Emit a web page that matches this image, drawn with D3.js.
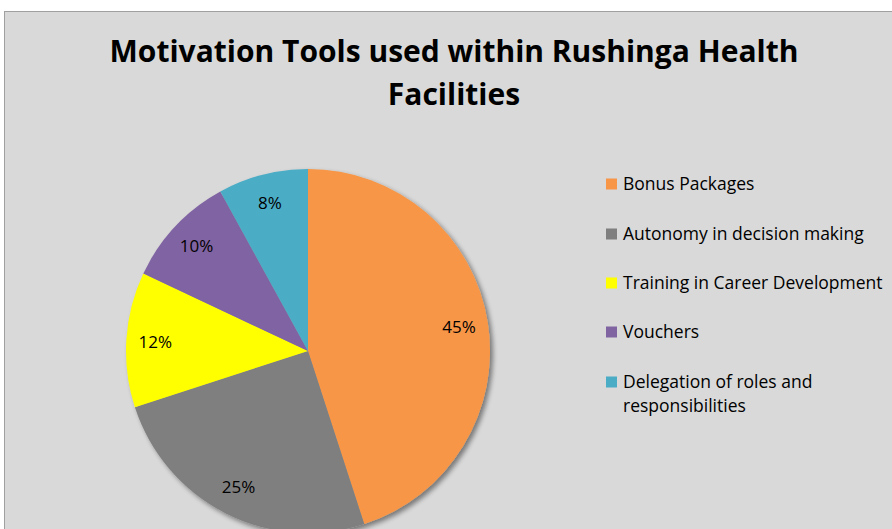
<!DOCTYPE html>
<html>
<head>
<meta charset="utf-8">
<script src="https://cdn.jsdelivr.net/npm/d3@7"></script>
<style>
  html, body { margin: 0; padding: 0; background: #fff; overflow: hidden; }
  svg { display: block; }
  text { font-family: "Open Sans", Lato, sans-serif; }
</style>
</head>
<body>
<div id="chart"></div>
<script>
const categories = ['Bonus Packages', 'Autonomy in decision making', 'Training in Career Development', 'Vouchers', 'Delegation of roles and responsibilities'];
const values = [45, 25, 12, 10, 8];
const colors = ['#f79646', '#7f7f7f', '#ffff00', '#8064a2', '#4bacc6'];
const titleLines = ['Motivation Tools used within Rushinga Health', 'Facilities'];
const legendLines = [['Bonus Packages'], ['Autonomy in decision making'], ['Training in Career Development'], ['Vouchers'], ['Delegation of roles and', 'responsibilities']];

const _w = 892, _h = 529;
const svg = d3.select('#chart').append('svg')
  .attr('width', _w)
  .attr('height', _h);

const defs = svg.append('defs');
const shadow = defs.append('filter').attr('id', 'shadow')
  .attr('x', '-10%').attr('y', '-10%').attr('width', '125%').attr('height', '125%');
shadow.append('feGaussianBlur').attr('in', 'SourceAlpha').attr('stdDeviation', 2.5);
shadow.append('feOffset').attr('dx', 3).attr('dy', 3).attr('result', 'blur');
shadow.append('feComponentTransfer').append('feFuncA').attr('type', 'linear').attr('slope', 0.45);
const merge = shadow.append('feMerge');
merge.append('feMergeNode');
merge.append('feMergeNode').attr('in', 'SourceGraphic');

// chart area
svg.append('rect')
  .attr('x', 4.5).attr('y', 11.5)
  .attr('width', 900).attr('height', 540)
  .attr('fill', '#d9d9d9')
  .attr('stroke', '#a0a0a0')
  .attr('stroke-width', 1);

svg.append('text')
  .attr('text-anchor', 'middle')
  .style('font-size', '30px')
  .style('font-weight', 'bold')
  .attr('fill', '#000')
  .selectAll('tspan')
  .data(titleLines)
  .enter().append('tspan')
  .attr('x', 454)
  .attr('y', (d, i) => 62 + i * 43)
  .text(d => d);

const cx = 308, cy = 351, r = 182;
const pie = d3.pie().sort(null).value(d => d);
const arcs = pie(values);
const arc = d3.arc().innerRadius(0).outerRadius(r);
const labelArc = d3.arc().innerRadius(153).outerRadius(153);

const g = svg.append('g').attr('transform', `translate(${cx},${cy})`);
g.append('g').attr('filter', 'url(#shadow)')
  .selectAll('path')
  .data(arcs)
  .enter().append('path')
  .attr('d', arc)
  .attr('fill', (d, i) => colors[i]);

g.selectAll('.lbl')
  .data(arcs)
  .enter().append('text')
  .attr('class', 'lbl')
  .attr('transform', d => `translate(${labelArc.centroid(d)})`)
  .attr('text-anchor', 'middle')
  .attr('dy', '0.36em')
  .style('font-size', '17px')
  .attr('fill', '#000')
  .text(d => d.value + '%');

// legend
const legendY = [184, 234, 283, 332, 382];
const legend = svg.append('g').selectAll('g')
  .data(categories)
  .enter().append('g')
  .attr('transform', (d, i) => `translate(606,${legendY[i]})`);

legend.append('rect')
  .attr('x', 0).attr('y', -5.5)
  .attr('width', 11).attr('height', 11)
  .attr('fill', (d, i) => colors[i]);

legend.append('text')
  .style('font-size', '17.5px')
  .attr('fill', '#000')
  .selectAll('tspan')
  .data((d, i) => legendLines[i])
  .enter().append('tspan')
  .attr('x', 17)
  .attr('y', (d, i) => 6 + i * 24)
  .text(d => d);
</script>
</body>
</html>
